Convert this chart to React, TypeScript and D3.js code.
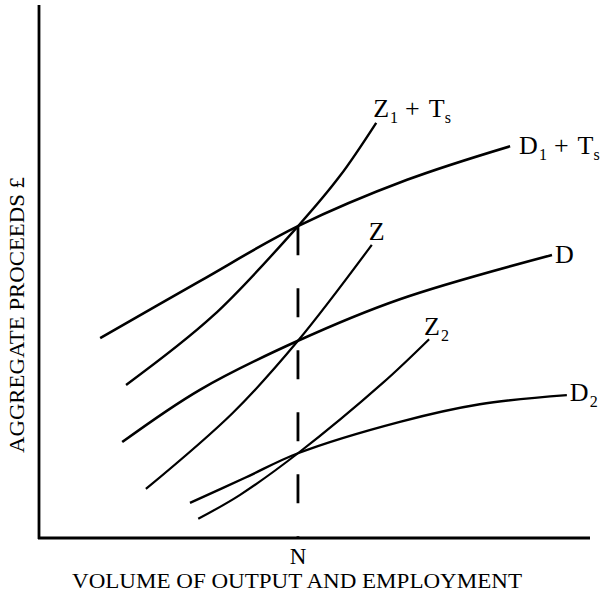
import React from "react";
import * as d3 from "d3";

type Pt = [number, number];

// Curves in data units (x: volume of output, y: aggregate proceeds)
const curveD1Ts: Pt[] = [[11.1, 37.5], [29.2, 48.2], [47.0, 58.5], [66.8, 67.2], [85.5, 73.5]];
const curveZ1Ts: Pt[] = [[15.8, 28.7], [31.6, 41.7], [47.0, 58.5], [54.6, 67.9], [61.2, 77.9]];
const curveD: Pt[] = [[15.1, 18.0], [29.2, 27.8], [47.0, 37.0], [65.5, 44.8], [93.1, 53.1]];
const curveZ: Pt[] = [[19.4, 9.2], [35.2, 23.5], [47.0, 37.0], [60.4, 55.0]];
const curveZ2: Pt[] = [[28.9, 3.6], [36.5, 8.1], [47.0, 15.9], [62.4, 29.1], [70.8, 37.3]];
const curveD2: Pt[] = [[27.4, 6.6], [37.4, 11.3], [47.0, 15.9], [65.5, 21.8], [80.0, 25.1], [95.8, 26.8]];

const nValue = 47.0;
const nTopValue = 58.5;

const xAxisTitle = "VOLUME OF OUTPUT AND EMPLOYMENT";
const yAxisTitle = "AGGREGATE PROCEEDS £";
const nLabel = "N";

const W = 606;
const H = 592;

const x = d3.scaleLinear().domain([0, 100]).range([39, 590]);
const y = d3.scaleLinear().domain([0, 100]).range([538, 5]);

const line = d3
  .line<Pt>()
  .x((d) => x(d[0]))
  .y((d) => y(d[1]))
  .curve(d3.curveCatmullRom.alpha(0.5));

const FONT = "'Liberation Serif', 'DejaVu Serif', serif";
const FS = 26;
const SUB = 16;

function Label({
  pt,
  dx,
  dy,
  main,
  sub,
  plus,
}: {
  pt: Pt;
  dx: number;
  dy: number;
  main: string;
  sub?: string;
  plus?: boolean;
}) {
  return (
    <text x={x(pt[0]) + dx} y={y(pt[1]) + dy} fontFamily={FONT} fontSize={FS} fill="#000">
      {main}
      {sub && (
        <tspan fontSize={SUB} dy={6} dx={1}>
          {sub}
        </tspan>
      )}
      {plus && (
        <>
          <tspan dy={-6} dx={7}>
            +
          </tspan>
          <tspan dx={9}>T</tspan>
          <tspan fontSize={SUB} dy={6}>
            s
          </tspan>
        </>
      )}
    </text>
  );
}

export default function App() {
  const last = (a: Pt[]) => a[a.length - 1];
  return (
    <svg width={W} height={H} style={{ position: "absolute", left: 0, top: 0, background: "#fff" }}>
      <rect width={W} height={H} fill="#fff" />
      {/* axes */}
      <line x1={x(0)} y1={y(100)} x2={x(0)} y2={y(0) + 1} stroke="#000" strokeWidth={2.8} />
      <line x1={x(0) - 1} y1={y(0)} x2={x(100)} y2={y(0)} stroke="#000" strokeWidth={2.8} />
      {/* dashed N line */}
      <line
        x1={x(nValue)}
        y1={y(nTopValue)}
        x2={x(nValue)}
        y2={y(0)}
        stroke="#000"
        strokeWidth={2.8}
        strokeDasharray="29 33"
      />
      {/* curves */}
      <path d={line(curveD1Ts) || ""} fill="none" stroke="#000" strokeWidth={2.6} />
      <path d={line(curveZ1Ts) || ""} fill="none" stroke="#000" strokeWidth={2.4} />
      <path d={line(curveD) || ""} fill="none" stroke="#000" strokeWidth={2.6} />
      <path d={line(curveZ) || ""} fill="none" stroke="#000" strokeWidth={2.2} />
      <path d={line(curveZ2) || ""} fill="none" stroke="#000" strokeWidth={2.2} />
      <path d={line(curveD2) || ""} fill="none" stroke="#000" strokeWidth={2.4} />

      {/* labels */}
      <Label pt={last(curveZ1Ts)} dx={-3} dy={-6} main="Z" sub="1" plus />
      <Label pt={last(curveD1Ts)} dx={9} dy={8} main="D" sub="1" plus />
      <Label pt={last(curveZ)} dx={-3} dy={-5} main="Z" />
      <Label pt={last(curveD)} dx={3} dy={8} main="D" />
      <Label pt={last(curveZ2)} dx={-5} dy={-4} main="Z" sub="2" />
      <Label pt={last(curveD2)} dx={3} dy={6} main="D" sub="2" />

      {/* N tick label */}
      <text x={x(nValue)} y={564} textAnchor="middle" fontFamily={FONT} fontSize={23} fill="#000">
        {nLabel}
      </text>
      {/* x axis title */}
      <text
        x={297}
        y={588}
        textAnchor="middle"
        fontFamily={FONT}
        fontSize={21}
        textLength={450}
        lengthAdjust="spacingAndGlyphs"
        fill="#000"
      >
        {xAxisTitle}
      </text>
      {/* y axis title */}
      <text
        transform={`translate(24, 315) rotate(-90)`}
        textAnchor="middle"
        fontFamily={FONT}
        fontSize={20}
        textLength={276}
        lengthAdjust="spacingAndGlyphs"
        fill="#000"
      >
        {yAxisTitle}
      </text>
    </svg>
  );
}
